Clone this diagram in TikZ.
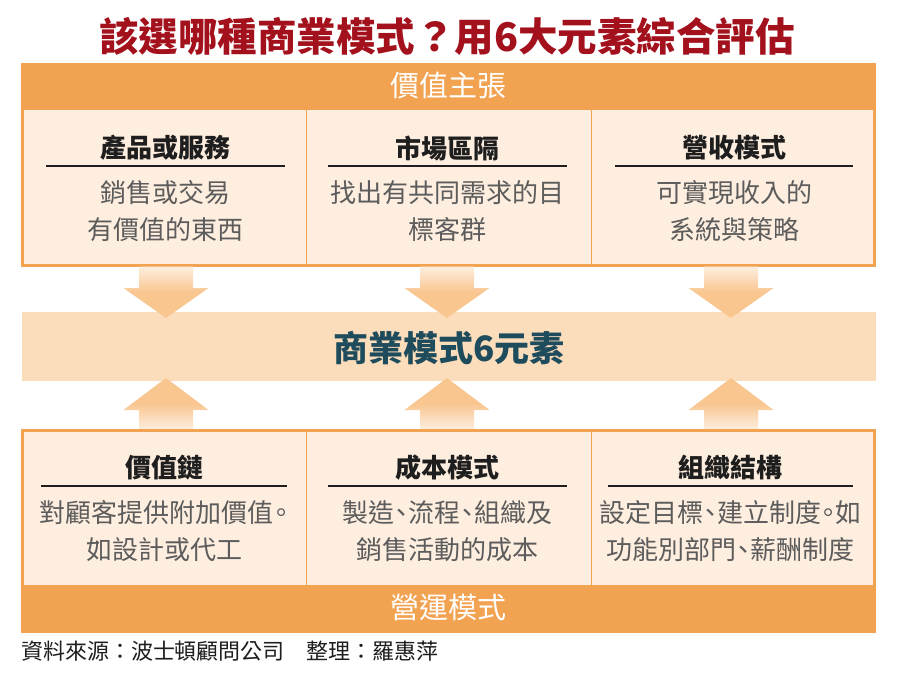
\documentclass[tikz,border=0pt]{standalone}
\usepackage{fontspec}
\setmainfont{Noto Sans CJK TC}
\definecolor{orng}{HTML}{F2A352}
\definecolor{cream}{HTML}{FEEEDF}
\definecolor{peach}{HTML}{FCDDBB}
\definecolor{arrowc}{HTML}{F9C690}
\definecolor{arrowl}{HTML}{FDEEDF}
\definecolor{titlered}{HTML}{A3111C}
\definecolor{tealtxt}{HTML}{1F4C5C}
\definecolor{bodygray}{HTML}{5C5C5C}
\definecolor{headtxt}{HTML}{1E1E1E}
\newcommand\hpunct[1]{\makebox[0.55em]{#1}}
\begin{document}
\begin{tikzpicture}[x=1pt,y=-1pt,
  every node/.style={inner sep=0pt, outer sep=0pt},
  outerbox/.style={draw=orng, line width=3pt, fill=cream, minimum width=852pt, minimum height=201pt},
  band/.style={fill=orng, minimum width=855pt, minimum height=47pt, text=white, font=\fontsize{29}{29}\selectfont},
  cell/.style={minimum width=282pt, minimum height=154pt},
  divider/.style={draw=orng, line width=1pt},
  headtext/.style={text=headtxt, font=\fontsize{26}{26}\bfseries\selectfont},
  bodytext/.style={text=bodygray, align=center, font=\fontsize{26}{37}\selectfont},
  uline/.style={draw=headtxt, line width=1.1pt},
  pics/dnarrow/.style={code={
    \shade[top color=arrowl, bottom color=arrowc, middle color=arrowc]
      (-27,2.5) -- (27,2.5) -- (27,24) -- (42.5,24) -- (0,54) -- (-42.5,24) -- (-27,24) -- cycle;}},
  pics/uparrow/.style={code={
    \shade[top color=arrowc, bottom color=arrowl, middle color=arrowc]
      (-27,-2.5) -- (27,-2.5) -- (27,-22) -- (42.5,-22) -- (0,-54) -- (-42.5,-22) -- (-27,-22) -- cycle;}}
]
\useasboundingbox[fill=white] (0,0) rectangle (908,681);

% title
\node (title) [text=titlered, font=\fontsize{39.5}{39.5}\bfseries\selectfont] at (447,36) {該選哪種商業模式？用6大元素綜合評估};

% middle band
\node (mid) [fill=peach, minimum width=854pt, minimum height=69pt] at (449,346.5) {};
\node (midtext) [text=tealtxt, font=\fontsize{35}{35}\bfseries\selectfont] at (449,348) {商業模式6元素};

% top box
\node (topbox) [outerbox] at (448.5,165) {};
\node (vp) [band] at (448.5,86.5) {};
\node (vptext) [band, fill=none, minimum width=0pt, minimum height=0pt] at (448.5,86) {價值主張};
\node (p1) [cell] at (165,187) {};
\node (p2) [cell] at (448.5,187) {};
\node (p3) [cell] at (732,187) {};
\draw[divider] (306,110) -- (306,264.5);
\draw[divider] (591,110) -- (591,264.5);

\node (h1) [headtext] at (165.5,148) {產品或服務};
\node (h2) [headtext] at (447.5,148) {市場區隔};
\node (h3) [headtext] at (734,148) {營收模式};
\draw[uline] (46,166) -- (285,166);
\draw[uline] (328,166) -- (567,166);
\draw[uline] (615,166) -- (853,166);
\node (b1) [bodytext] at (165.5,211.5) {銷售或交易\\有價值的東西};
\node (b2) [bodytext] at (447.5,211.5) {找出有共同需求的目\\標客群};
\node (b3) [bodytext] at (734,211.5) {可實現收入的\\系統與策略};

% down arrows
\pic at (166,264) {dnarrow};
\pic at (447,264) {dnarrow};
\pic at (731,264) {dnarrow};

% up arrows
\pic at (166,432) {uparrow};
\pic at (447,432) {uparrow};
\pic at (731,432) {uparrow};

% bottom box
\node (botbox) [outerbox] at (448.5,531) {};
\node (op) [band, minimum height=48pt] at (448.5,609) {};
\node (optext) [band, fill=none, minimum width=0pt, minimum height=0pt] at (448.5,607) {營運模式};
\node (q1) [cell, minimum height=153pt] at (165,508.5) {};
\node (q2) [cell, minimum height=153pt] at (448.5,508.5) {};
\node (q3) [cell, minimum height=153pt] at (732,508.5) {};
\draw[divider] (306,430.5) -- (306,585);
\draw[divider] (591,430.5) -- (591,585);

\node (g1) [headtext] at (164,468) {價值鏈};
\node (g2) [headtext] at (447.5,468) {成本模式};
\node (g3) [headtext] at (730.5,468) {組織結構};
\draw[uline] (41,486) -- (287,486);
\draw[uline] (328,486) -- (567,486);
\draw[uline] (608,486) -- (853,486);
\node (e1) [bodytext] at (164,531) {對顧客提供附加價值\hpunct{。}\\如設計或代工};
\node (e2) [bodytext] at (447.5,531) {製造\hpunct{、}流程\hpunct{、}組織及\\銷售活動的成本};
\node (e3) [bodytext] at (730.5,531) {設定目標\hpunct{、}建立制度\hpunct{。}如\\功能別部門\hpunct{、}薪酬制度};

% source
\node (src) [anchor=west, text=headtxt, font=\fontsize{22}{22}\selectfont] at (21,651) {資料來源：波士頓顧問公司　整理：羅惠萍};
\end{tikzpicture}
\end{document}
